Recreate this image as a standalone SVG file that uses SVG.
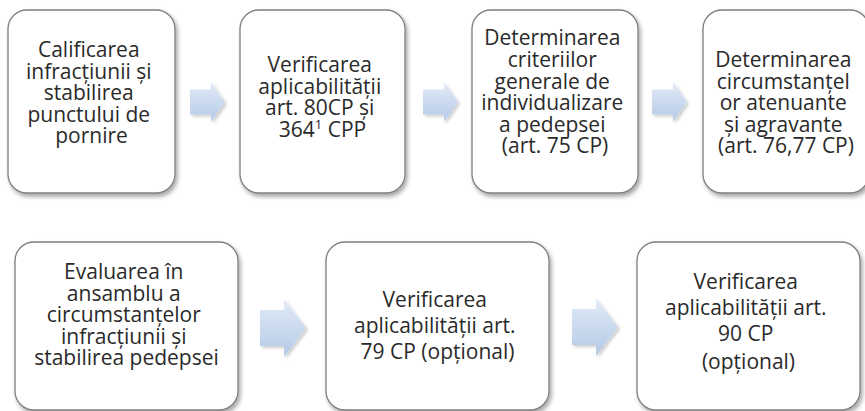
<svg xmlns="http://www.w3.org/2000/svg" width="865" height="411" viewBox="0 0 865 411">
  <defs>
    <filter id="sh" x="-10%" y="-10%" width="125%" height="125%">
      <feDropShadow dx="2" dy="3" stdDeviation="2" flood-color="#000" flood-opacity="0.35"/>
    </filter>
    <filter id="ash" x="-20%" y="-20%" width="150%" height="150%">
      <feDropShadow dx="2" dy="2" stdDeviation="1.5" flood-color="#000" flood-opacity="0.2"/>
    </filter>
    <linearGradient id="ag" x1="0" y1="0" x2="0" y2="1">
      <stop offset="0" stop-color="#e2ebf7"/>
      <stop offset="1" stop-color="#b4c9e6"/>
    </linearGradient>
    <path id="arT" d="M0,-12.5 H21 V-20 L35,0 L21,20 V12.5 H0 Z"/>
    <path id="arB" d="M0,-18 H24 V-29 L46,0 L24,29 V18 H0 Z"/>
  </defs>
  <style>
    .box { fill: #ffffff; stroke: #7f7f7f; stroke-width: 1.3; filter: url(#sh); }
    .t { font-family: "Open Sans", "Liberation Sans", sans-serif; font-size: 21px; fill: #2a2a2a; text-anchor: middle; }
    .arrow { fill: url(#ag); filter: url(#ash); }
  </style>
  <rect width="865" height="411" fill="#ffffff"/>

  <g id="connectors">
    <use href="#arT" class="arrow" transform="translate(190,102)"/>
    <use href="#arT" class="arrow" transform="translate(423,102)"/>
    <use href="#arT" class="arrow" transform="translate(652,102)"/>
    <use href="#arB" class="arrow" transform="translate(260,328)"/>
    <use href="#arB" class="arrow" transform="translate(572,327)"/>
  </g>

  <g id="node1">
    <rect class="box" x="8" y="10" width="167" height="183" rx="19"/>
    <text class="t">
      <tspan x="91.5" y="57">Calificarea</tspan>
      <tspan x="91.5" y="78.5">infracțiunii și</tspan>
      <tspan x="91.5" y="100">stabilirea</tspan>
      <tspan x="91.5" y="121.5">punctului de</tspan>
      <tspan x="91.5" y="143">pornire</tspan>
    </text>
  </g>

  <g id="node2">
    <rect class="box" x="240" y="10" width="165" height="183" rx="19"/>
    <text class="t">
      <tspan x="322.5" y="72">Verificarea</tspan>
      <tspan x="322.5" y="93.5">aplicabilității</tspan>
      <tspan x="322.5" y="115">art. 80CP și</tspan>
      <tspan x="322.5" y="136.5">364<tspan font-size="13" dy="-8">1</tspan><tspan dy="8"> CPP</tspan></tspan>
    </text>
  </g>

  <g id="node3">
    <rect class="box" x="472" y="10" width="166" height="183" rx="19"/>
    <text class="t">
      <tspan x="555" y="45">Determinarea</tspan>
      <tspan x="555" y="67">criteriilor</tspan>
      <tspan x="555" y="88.5">generale de</tspan>
      <tspan x="555" y="110">individualizare</tspan>
      <tspan x="555" y="131.5">a pedepsei</tspan>
      <tspan x="555" y="153">(art. 75 CP)</tspan>
    </text>
  </g>

  <g id="node4">
    <rect class="box" x="703" y="10" width="166" height="183" rx="19"/>
    <text class="t">
      <tspan x="786" y="67">Determinarea</tspan>
      <tspan x="786" y="88.5">circumstanțel</tspan>
      <tspan x="786" y="110">or atenuante</tspan>
      <tspan x="786" y="131.5">și agravante</tspan>
      <tspan x="786" y="153">(art. 76,77 CP)</tspan>
    </text>
  </g>

  <g id="node5">
    <rect class="box" x="15" y="242" width="223" height="168" rx="19"/>
    <text class="t">
      <tspan x="126.5" y="279">Evaluarea în</tspan>
      <tspan x="126.5" y="300.5">ansamblu a</tspan>
      <tspan x="126.5" y="322">circumstanțelor</tspan>
      <tspan x="126.5" y="343.5">infracțiunii și</tspan>
      <tspan x="126.5" y="365">stabilirea pedepsei</tspan>
    </text>
  </g>

  <g id="node6">
    <rect class="box" x="326" y="242" width="223" height="168" rx="19"/>
    <text class="t">
      <tspan x="437.5" y="307">Verificarea</tspan>
      <tspan x="437.5" y="333">aplicabilității art.</tspan>
      <tspan x="437.5" y="359">79 CP (opțional)</tspan>
    </text>
  </g>

  <g id="node7">
    <rect class="box" x="637" y="242" width="223" height="168" rx="19"/>
    <text class="t">
      <tspan x="748.5" y="289">Verificarea</tspan>
      <tspan x="748.5" y="315">aplicabilității art.</tspan>
      <tspan x="748.5" y="341">90 CP</tspan>
      <tspan x="748.5" y="369">(opțional)</tspan>
    </text>
  </g>
</svg>
